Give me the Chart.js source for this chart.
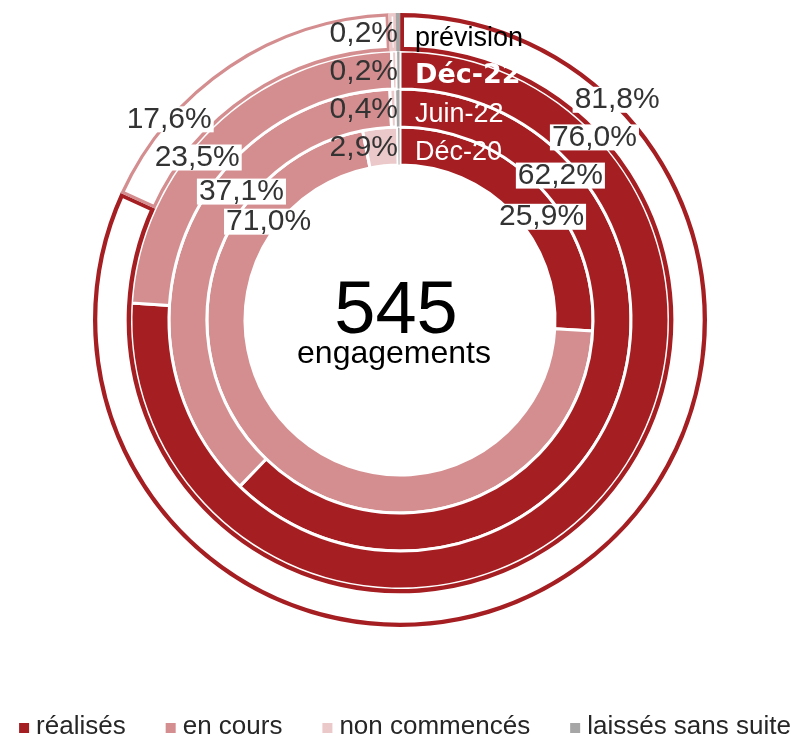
<!DOCTYPE html>
<html lang="fr">
<head>
<meta charset="utf-8">
<title>Engagements</title>
<script src="https://cdn.jsdelivr.net/npm/chart.js@4.4.1/dist/chart.umd.min.js"></script>
<style>
  html, body { margin: 0; padding: 0; background: #fff; }
  #wrap { width: 800px; height: 737px; position: relative; }
</style>
</head>
<body>
<div id="wrap"><canvas id="anneaux"></canvas></div>
<script>
// anneaux, de l'extérieur vers l'intérieur
var periodes = ['prévision', 'Déc-22', 'Juin-22', 'Déc-20'];
var categories = ['réalisés', 'en cours', 'non commencés', 'laissés sans suite'];

// parts en % : réalisés, en cours, non commencés, laissés sans suite
var prevision = [81.8, 17.6, 0.4, 0.2];
var dec22 = [76.0, 23.5, 0.3, 0.2];
var juin22 = [62.2, 37.1, 0.4, 0.3];
var dec20 = [25.9, 71.0, 2.9, 0.2];

var totalEngagements = 545;
var libelleTotal = 'engagements';

var couleurs = ['#a51e22', '#d48e90', '#ebc8c9', '#a6a6a6'];
var police = "'Liberation Sans', Arial, sans-serif";

// placement des étiquettes : [angle depuis midi en degrés, fraction de l'épaisseur de l'anneau]
var posDroite = [[44.6, 1.06], [46.8, 0.94], [48.0, 0.6], [53.9, 0.53]];
var posGauche = [[-49.0, 0.97], [-51.3, 0.76], [-51.0, 0.29], [-53.2, 0.24]];
// petite part affichée à midi pour chaque anneau
var indexHaut = [3, 3, 2, 2];
var styleNoms = [
  { font: '27px ' + police, color: '#000' },
  { font: "bold 27px 'DejaVu Sans', sans-serif", color: '#fff' },
  { font: '27px ' + police, color: '#fff' },
  { font: '27px ' + police, color: '#fff' }
];

function pct(v) {
  return v.toFixed(1).replace('.', ',') + '%';
}

var etiquettes = {
  id: 'etiquettes',
  afterDatasetsDraw: function(chart) {
    var ctx = chart.ctx;
    ctx.save();
    ctx.textBaseline = 'middle';
    chart.data.datasets.forEach(function(ds, i) {
      var arc = chart.getDatasetMeta(i).data[0];
      var cx = arc.x, cy = arc.y;
      var rIn = arc.innerRadius, ep = arc.outerRadius - arc.innerRadius;

      // pourcentages sur fond blanc
      ctx.font = '30px ' + police;
      [[0, posDroite[i]], [1, posGauche[i]]].forEach(function(p) {
        var a = p[1][0] * Math.PI / 180;
        var r = rIn + p[1][1] * ep;
        var x = cx + r * Math.sin(a), y = cy - r * Math.cos(a);
        var txt = pct(ds.data[p[0]]);
        var w = ctx.measureText(txt).width;
        ctx.fillStyle = '#fff';
        ctx.fillRect(x - w / 2 - 2, y - 13, w + 4, 26);
        ctx.fillStyle = '#333';
        ctx.textAlign = 'center';
        ctx.fillText(txt, x, y);
      });

      // petite part à gauche de midi
      ctx.textAlign = 'right';
      ctx.fillStyle = '#333';
      ctx.fillText(pct(ds.data[indexHaut[i]]), cx - 2, cy - (rIn + 0.45 * ep));

      // nom de l'anneau à droite de midi
      ctx.textAlign = 'left';
      ctx.font = styleNoms[i].font;
      ctx.fillStyle = styleNoms[i].color;
      ctx.fillText(ds.label, cx + 15, cy - (rIn + 0.33 * ep));
    });
    ctx.restore();
  },
  afterDraw: function(chart) {
    var ctx = chart.ctx;
    var arc = chart.getDatasetMeta(0).data[0];
    ctx.save();
    // total au centre
    ctx.fillStyle = '#000';
    ctx.textAlign = 'center';
    ctx.textBaseline = 'alphabetic';
    ctx.font = '74px ' + police;
    ctx.fillText(String(totalEngagements), arc.x - 4, arc.y + 13);
    ctx.font = '32px ' + police;
    ctx.fillText(libelleTotal, arc.x - 6, arc.y + 43);

    // légende
    ctx.font = '26px ' + police;
    var boite = 10, ecart = 7, pas = 40;
    var largeurs = categories.map(function(c) { return ctx.measureText(c).width; });
    var total = largeurs.reduce(function(s, w) { return s + w + boite + ecart; }, 0) + pas * (categories.length - 1);
    var x = 405 - total / 2;
    var base = 734;
    ctx.textAlign = 'left';
    categories.forEach(function(c, k) {
      ctx.fillStyle = couleurs[k];
      ctx.fillRect(x, base - 11, boite, boite);
      ctx.fillStyle = '#262626';
      ctx.fillText(c, x + boite + ecart, base);
      x += boite + ecart + largeurs[k] + pas;
    });
    ctx.restore();
  }
};

var anneauInterieur = function(label, valeurs) {
  return {
    label: label,
    data: valeurs,
    backgroundColor: couleurs,
    borderColor: '#fff',
    borderWidth: [3, 3, 3, 1]
  };
};

new Chart(document.getElementById('anneaux'), {
  type: 'doughnut',
  data: {
    labels: categories,
    datasets: [
      {
        label: periodes[0],
        data: prevision,
        backgroundColor: ['#fff', '#fff', '#fff', '#d9d9d9'],
        borderColor: couleurs,
        borderWidth: [4, 3, 3, 2],
        borderAlign: 'inner'
      },
      anneauInterieur(periodes[1], dec22),
      anneauInterieur(periodes[2], juin22),
      anneauInterieur(periodes[3], dec20)
    ]
  },
  options: {
    responsive: true,
    maintainAspectRatio: false,
    animation: false,
    cutout: '50.5%',
    hoverOffset: 0,
    events: [],
    layout: { padding: { top: 13, bottom: 110, left: 0, right: 0 } },
    plugins: {
      legend: { display: false },
      tooltip: { enabled: false }
    }
  },
  plugins: [etiquettes]
});
</script>
</body>
</html>
